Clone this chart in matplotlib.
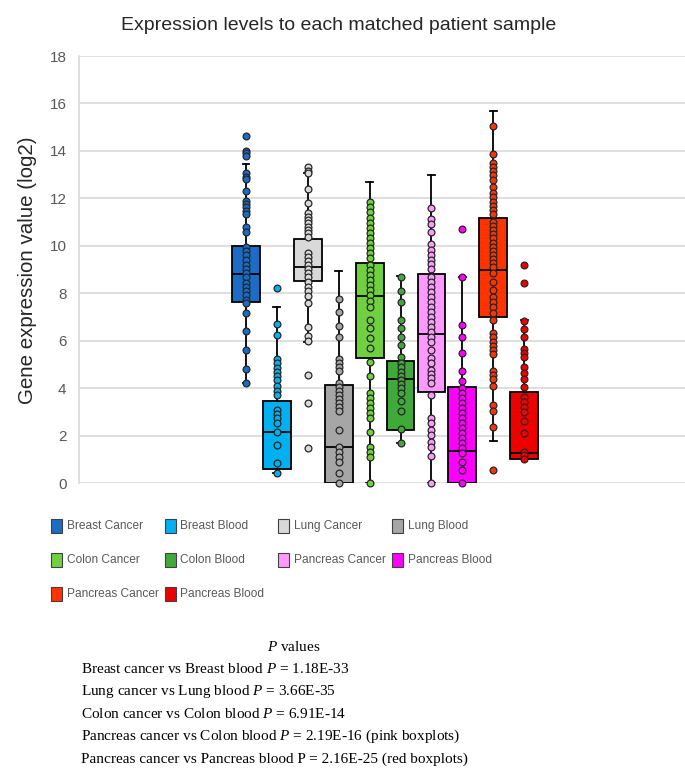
import matplotlib
matplotlib.use("Agg")
import matplotlib.pyplot as plt
from matplotlib.patches import Rectangle
import numpy as np

plt.rcParams['font.family'] = 'Liberation Sans'
plt.rcParams['mathtext.fontset'] = 'custom'
plt.rcParams['mathtext.rm'] = 'Liberation Serif'
plt.rcParams['mathtext.it'] = 'Liberation Serif:italic'

# series names and colours (order as drawn left to right)
names = ['Breast Cancer', 'Breast Blood', 'Lung Cancer', 'Lung Blood',
         'Colon Cancer', 'Colon Blood', 'Pancreas Cancer', 'Pancreas Blood',
         'Pancreas Cancer', 'Pancreas Blood']
colors = ['#1A6CC4', '#00B0F0', '#D9D9D9', '#A6A6A6', '#70D040',
          '#3FAA3A', '#FF99FF', '#FF00FF', '#FF3300', '#EE0000']

# box statistics
q1 = [7.63, 0.60, 8.53, 0.00, 5.29, 2.25, 3.86, 0.00, 7.02, 1.01]
med = [8.81, 2.18, 9.12, 1.52, 7.87, 4.38, 6.29, 1.38, 8.99, 1.29]
q3 = [10.01, 3.48, 10.31, 4.14, 9.29, 5.17, 8.80, 4.07, 11.16, 3.85]
whislo = [4.21, 0.42, 5.97, 0.00, 0.00, 1.68, 0.00, 0.00, 1.80, 1.01]
whishi = [13.44, 7.44, 13.09, 8.93, 12.70, 8.75, 13.00, 8.70, 15.70, 6.88]

# individual sample values
breast_cancer = [14.64, 14.0, 13.9, 13.79, 13.06, 12.89, 12.8, 12.31, 11.9, 11.77,
                 11.63, 11.48, 11.34, 10.78, 10.6, 9.97, 9.8, 9.62, 9.41, 9.2,
                 9.01, 8.85, 8.68, 8.45, 8.28, 8.11, 7.93, 7.72, 7.58, 7.16,
                 6.43, 5.62, 4.8, 4.21]
breast_blood = [8.21, 6.71, 6.24, 5.22, 5.06, 4.87, 4.68, 4.5, 4.35, 4.1,
                3.9, 3.72, 3.09, 2.92, 2.74, 2.53, 2.15, 1.62, 0.87, 0.42]
lung_cancer = [13.31, 13.17, 13.06, 12.38, 11.79, 11.37, 11.23, 11.09, 10.95, 10.81,
               10.67, 10.53, 10.36, 9.69, 9.52, 9.35, 9.18, 9.01, 8.85, 8.68,
               8.5, 8.29, 8.08, 7.87, 7.61, 6.6, 6.2, 6.0, 4.56, 3.37, 1.47]
lung_blood = [7.75, 7.2, 6.63, 6.18, 5.22, 5.05, 4.89, 4.72, 4.21, 4.04,
              3.87, 3.7, 3.54, 3.37, 3.2, 3.03, 2.25, 1.54, 1.33, 1.12,
              0.91, 0.42, 0.0]
colon_cancer = [11.86, 11.65, 11.44, 11.16, 10.95, 10.74, 10.53, 10.32, 10.11, 9.9,
                9.69, 9.48, 9.2, 8.99, 8.78, 8.57, 8.36, 8.15, 7.94, 7.7,
                7.44, 6.88, 6.53, 6.13, 5.71, 5.12, 4.53, 3.79, 3.58, 3.37,
                3.16, 2.95, 2.74, 2.17, 1.54, 1.33, 1.12, 0.0]
colon_blood = [8.68, 8.1, 7.65, 6.88, 6.53, 6.18, 5.83, 5.31, 5.05, 4.89,
               4.7, 4.52, 4.35, 4.18, 4.0, 3.82, 3.48, 3.05, 2.27, 1.68]
pancreas_cancer_pink = [11.58, 11.12, 10.92, 10.6, 10.08, 9.83, 9.62, 9.41, 9.22, 9.03,
                        8.7, 8.49, 8.28, 8.07, 7.86, 7.65, 7.44, 7.23, 7.02, 6.81,
                        6.6, 6.39, 6.18, 5.97, 5.62, 5.26, 5.05, 4.77, 4.6, 4.42,
                        4.21, 3.72, 2.74, 2.53, 2.25, 2.04, 1.75, 1.54, 1.15, 0.0]
pancreas_blood_pink = [10.7, 8.68, 6.67, 6.15, 5.47, 4.75, 4.32, 4.0, 3.79, 3.58,
                       3.37, 3.16, 2.95, 2.74, 2.53, 2.31, 2.1, 1.89, 1.68, 1.47,
                       1.26, 0.91, 0.56, 0.0]
pancreas_cancer_red = [15.07, 13.87, 13.51, 13.34, 13.17, 12.99, 12.78, 12.47, 12.22, 12.05,
                       11.86, 11.68, 11.51, 11.34, 11.02, 10.84, 10.67, 10.5, 10.32, 10.14,
                       9.97, 9.8, 9.62, 9.44, 9.27, 9.1, 8.85, 8.5, 8.14, 7.86,
                       7.65, 7.44, 7.16, 6.88, 6.32, 6.15, 5.97, 5.78, 5.62, 5.45,
                       4.75, 4.56, 4.38, 4.1, 3.3, 3.06, 2.39, 0.56]
pancreas_blood_red = [9.2, 8.45, 6.85, 6.49, 6.15, 5.64, 5.47, 5.31, 4.91, 4.66,
                      4.38, 4.07, 3.65, 3.44, 3.23, 3.02, 2.64, 2.13, 1.33, 1.19, 1.01]

samples = [breast_cancer, breast_blood, lung_cancer, lung_blood, colon_cancer,
           colon_blood, pancreas_cancer_pink, pancreas_blood_pink,
           pancreas_cancer_red, pancreas_blood_red]

p_lines = [
    r'Breast cancer vs Breast blood $\mathit{P}$ = 1.18E-33',
    r'Lung cancer vs Lung blood $\mathit{P}$ = 3.66E-35',
    r'Colon cancer vs Colon blood $\mathit{P}$ = 6.91E-14',
    r'Pancreas cancer vs Colon blood $\mathit{P}$ = 2.19E-16 (pink boxplots)',
    'Pancreas cancer vs Pancreas blood P = 2.16E-25 (red boxplots)',
]

fig = plt.figure(figsize=(6.85, 7.69), dpi=100)
ax = fig.add_axes([79 / 685, 1 - 483.3 / 769, 606 / 685, 427.3 / 769])

pos = np.arange(len(names))
stats = []
for i in range(len(names)):
    stats.append(dict(q1=q1[i], med=med[i], q3=q3[i],
                      whislo=whislo[i], whishi=whishi[i], fliers=[]))

bp = ax.bxp(stats, positions=pos, widths=0.9, patch_artist=True,
            showfliers=False, capwidths=0.22,
            boxprops=dict(edgecolor='black', linewidth=1.3),
            medianprops=dict(color='black', linewidth=1.3),
            whiskerprops=dict(color='black', linewidth=1.3),
            capprops=dict(color='black', linewidth=1.3))
for patch, c in zip(bp['boxes'], colors):
    patch.set_facecolor(c)
for k in ['boxes', 'medians', 'whiskers', 'caps']:
    for a in bp[k]:
        a.set_zorder(2)

for p, vals, c in zip(pos, samples, colors):
    ax.scatter(np.full(len(vals), p), vals, s=24, facecolor=c,
               edgecolor='#262626', linewidth=0.9, zorder=3, clip_on=False)

ax.set_xlim(-5.4, 14.2)
ax.set_ylim(0, 18)
ax.set_yticks(np.arange(0, 19, 2))
ax.set_xticks([])
ax.yaxis.grid(True, color='#D9D9D9', linewidth=1.2, zorder=0)
ax.set_axisbelow(True)
for s in ['top', 'right', 'bottom']:
    ax.spines[s].set_visible(False)
ax.spines['left'].set_color('#D9D9D9')
ax.spines['left'].set_linewidth(1.2)
ax.tick_params(axis='y', length=0, pad=9, labelsize=11, labelcolor='#595959')

fig.text(0.494, 1 - 25 / 769, 'Expression levels to each matched patient sample',
         ha='center', va='center', fontsize=14, color='#262626')
fig.text(28 / 685, 1 - 270 / 769, 'Gene expression value (log2)', rotation=90,
         ha='center', va='center', fontsize=14.8, color='#262626')

# legend laid out row by row, four per row
for i, (n, c) in enumerate(zip(names, colors)):
    r, col = divmod(i, 4)
    x0 = 51 + col * 113.5
    yc = 526 + r * 34
    fig.patches.append(Rectangle((x0 / 685, 1 - (yc + 7) / 769), 11 / 685, 14 / 769,
                                 transform=fig.transFigure, facecolor=c,
                                 edgecolor='#404040', linewidth=0.8))
    fig.text((x0 + 16) / 685, 1 - yc / 769, n, ha='left', va='center',
             fontsize=8.6, color='#595959')

fig.text(294 / 685, 1 - 647 / 769, r'$\mathit{P}$ values', ha='center', va='center',
         fontsize=11, family='Liberation Serif')
for j, t in enumerate(p_lines):
    fig.text(81 / 685, 1 - (669 + j * 22.5) / 769, t, ha='left', va='center',
             fontsize=11, family='Liberation Serif')

fig.savefig('out.png', dpi=100)
